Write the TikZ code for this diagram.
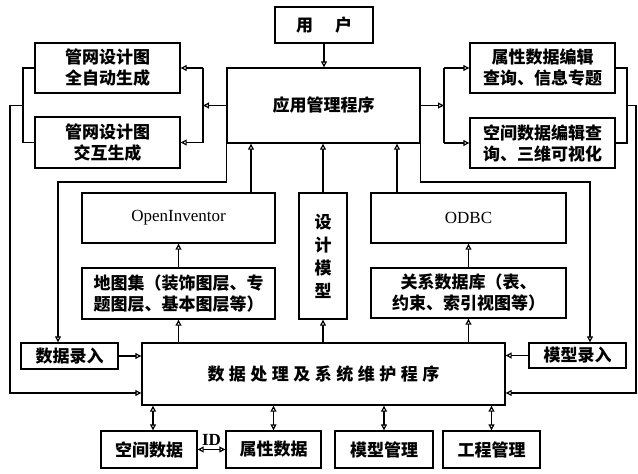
\documentclass[tikz,border=0pt]{standalone}
\usepackage{fontspec}
\setmainfont{Liberation Serif}
\newfontfamily\cjk{Noto Sans CJK SC}
\usetikzlibrary{arrows.meta,calc}
\tikzset{
  box/.style={draw, line width=1.4pt, inner sep=0pt, align=center,
    font=\cjk\bfseries\fontsize{17}{21}\selectfont},
  lbox/.style={box, font=\fontsize{17}{20}\selectfont},
  conn/.style={line width=1.2pt},
  arr/.style={conn, -{Triangle[open,length=6pt,width=6pt]}},
  darr/.style={conn, {Triangle[open,length=6pt,width=6pt]}-{Triangle[open,length=6pt,width=6pt]}},
}
\begin{document}
\begin{tikzpicture}[x=1pt,y=-1pt]
\fill[white] (0,0) rectangle (638,474);
\useasboundingbox (0,0) rectangle (638,474);
% boxes
\node[box, minimum width=98, minimum height=36] (user) at (324,25) {用\hspace{22pt}户};
\node[box, minimum width=193, minimum height=75] (app) at (323.5,105.5) {应用管理程序};
\node[box, minimum width=145, minimum height=50] (g1) at (107.5,68) {管网设计图\\全自动生成};
\node[box, minimum width=145, minimum height=51] (g2) at (107.5,142.5) {管网设计图\\交互生成};
\node[box, minimum width=145, minimum height=50] (r1) at (542.5,68) {属性数据编辑\\查询、信息专题};
\node[box, minimum width=145, minimum height=50] (r2) at (542.5,143) {空间数据编辑查\\询、三维可视化};
\node[lbox, minimum width=193, minimum height=50] (oi) at (178.5,218) {OpenInventor};
\node[box, minimum width=48, minimum height=126, font=\cjk\bfseries\fontsize{17}{23}\selectfont] (dm) at (323,256) {设\\计\\模\\型};
\node[lbox, minimum width=195, minimum height=50] (odbc) at (468.5,218) {ODBC};
\node[box, minimum width=193, minimum height=51] (atlas) at (178.5,293.5) {地图集（装饰图层、专\\题图层、基本图层等）};
\node[box, minimum width=195, minimum height=50] (rdb) at (468.5,293) {关系数据库（表、\\约束、索引视图等）};
\node[box, minimum width=97, minimum height=26] (entry) at (69.5,356) {数据录入};
\node[box, minimum width=363, minimum height=62] (proc) at (323.5,374) {数\hspace{4.5pt}据\hspace{4.5pt}处\hspace{4.5pt}理\hspace{4.5pt}及\hspace{4.5pt}系\hspace{4.5pt}统\hspace{4.5pt}维\hspace{4.5pt}护\hspace{4.5pt}程\hspace{4.5pt}序};
\node[box, minimum width=97, minimum height=25] (mentry) at (577.5,355.5) {模型录入};
\node[box, minimum width=96, minimum height=37] (sd) at (149,449.5) {空间数据};
\node[box, minimum width=95, minimum height=37] (ad) at (273.5,449.5) {属性数据};
\node[box, minimum width=98, minimum height=37] (mm) at (384,449.5) {模型管理};
\node[box, minimum width=97, minimum height=37] (pm) at (491.5,449.5) {工程管理};
% coordinates
\coordinate (lb) at (203,105.5);
\coordinate (rb) at (444,105.5);
\coordinate (lx) at (23,105.5);
\coordinate (lo) at (10,393);
\coordinate (rx) at (627,105.5);
\coordinate (ro) at (636,393);
\coordinate (la) at (58,182);
\coordinate (ra) at (590,182);
% user -> app
\draw[arr] (user.south) -- (user.south |- app.north);
% app -> left outputs
\draw[arr] (app.west) -- (lb);
\draw[conn] (lb |- g1.east) -- (lb |- g2.east);
\draw[arr] (lb |- g1.east) -- (g1.east);
\draw[arr] (lb |- g2.east) -- (g2.east);
% app -> right outputs
\draw[arr] (app.east) -- (rb);
\draw[conn] (rb |- r1.west) -- (rb |- r2.west);
\draw[arr] (rb |- r1.west) -- (r1.west);
\draw[arr] (rb |- r2.west) -- (r2.west);
% left feedback loop
\draw[conn] (g1.west) -| (lx) |- (g2.west);
\draw[arr] (lx) -| (lo) -- (proc.west |- lo);
% right feedback loop
\draw[conn] (r1.east) -| (rx) |- (r2.east);
\draw[arr] (rx) -| (ro) -- (proc.east |- ro);
% app -> data entries
\draw[arr] (app.south west) |- (la) -- (la |- entry.north);
\draw[arr] (app.south east) |- (ra) -- (ra |- mentry.north);
% into app
\draw[arr] ([xshift=72.5pt]oi.north) -- ([xshift=72.5pt]oi.north |- app.south);
\draw[arr] (dm.north) -- (dm.north |- app.south);
\draw[arr] ([xshift=-71.5pt]odbc.north) -- ([xshift=-71.5pt]odbc.north |- app.south);
% middle layer
\draw[arr] (atlas.north) -- (oi.south);
\draw[arr] (rdb.north) -- (odbc.south);
\draw[arr] (atlas.south |- proc.north) -- (atlas.south);
\draw[arr] (rdb.south |- proc.north) -- (rdb.south);
\draw[arr] (dm.south |- proc.north) -- (dm.south);
% entries -> proc
\draw[arr] (entry.east) -- (entry.east -| proc.west);
\draw[arr] (mentry.west) -- (mentry.west -| proc.east);
% bottom
\draw[darr] ([xshift=4pt]sd.north) -- ([xshift=4pt]sd.north |- proc.south);
\draw[darr] (ad.north) -- (ad.north |- proc.south);
\draw[darr] (mm.north) -- (mm.north |- proc.south);
\draw[darr] (pm.north) -- (pm.north |- proc.south);
\draw[darr] (sd.east) -- node[above=0pt, font=\bfseries\fontsize{17}{19}\selectfont]{ID} (ad.west);
\end{tikzpicture}
\end{document}
